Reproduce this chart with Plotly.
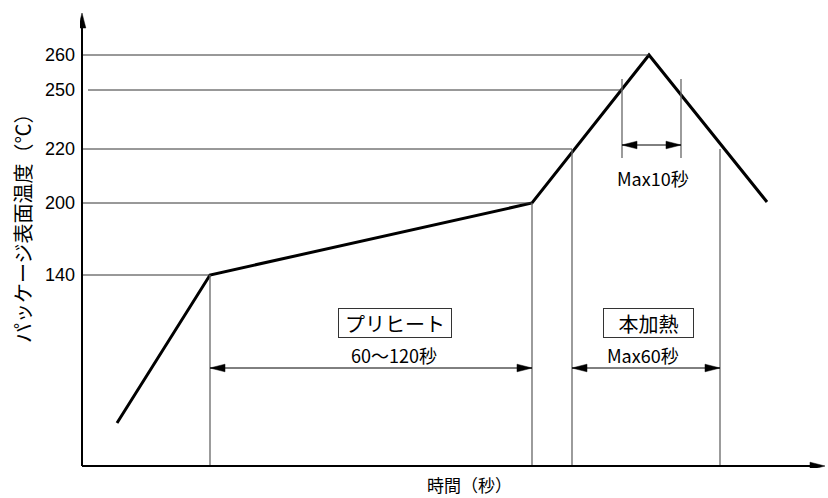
import plotly.graph_objects as go

# temperatures marked on the vertical axis and their height on the (non-linear) drawing
temps = [140, 200, 220, 250, 260]
temp_level = [191, 263, 317, 376, 411]

# reflow profile, schematic time units
profile_t = [35, 128, 450, 567, 685]
profile_level = [43, 191, 263, 411, 264]

preheat = [128, 450]      # プリヒート 60~120秒
main_heat = [490, 638]    # 本加熱 Max60秒
peak_zone = [540, 599]    # Max10秒 (>=250)
peak_guides = [308, 387]

x_end = 743
y_end = 453

JP = "Noto Sans CJK JP"
NUM = "Liberation Sans, Arial"

fig = go.Figure()

guide = dict(color="#333", width=1)
vguide = dict(color="#666", width=1.3)

# horizontal guides from the axis to where the profile meets the temperature
h_end = [preheat[0], preheat[1], main_heat[0], peak_zone[0], profile_t[3]]
h_start = [0, 0, 0, 6, 0]
for lv, x0, x1 in zip(temp_level, h_start, h_end):
    fig.add_shape(type="line", x0=x0, x1=x1, y0=lv, y1=lv, line=guide)

# vertical guides down to the time axis
for x, lv in [(preheat[0], temp_level[0]), (preheat[1], temp_level[1]),
              (main_heat[0], temp_level[2]), (main_heat[1], temp_level[2])]:
    fig.add_shape(type="line", x0=x, x1=x, y0=0, y1=lv, line=vguide)
for x in peak_zone:
    fig.add_shape(type="line", x0=x, x1=x, y0=peak_guides[0], y1=peak_guides[1], line=vguide)


def head(x, y, dx, dy, length=15, half=3.8):
    # filled triangle whose tip is at (x, y), pointing along (dx, dy)
    bx, by = x - dx * length, y - dy * length
    px, py = -dy * half, dx * half
    path = f"M{x},{y} L{bx + px},{by + py} L{bx - px},{by - py} Z"
    fig.add_shape(type="path", path=path, fillcolor="black", line=dict(color="black", width=0.5))


def span(x0, x1, y):
    fig.add_shape(type="line", x0=x0, x1=x1, y0=y, y1=y, line=dict(color="black", width=1))
    head(x0, y, -1, 0)
    head(x1, y, 1, 0)


span(preheat[0], preheat[1], 98)
span(main_heat[0], main_heat[1], 98)
span(peak_zone[0], peak_zone[1], 321)

# axes with arrows
fig.add_shape(type="line", x0=0, x1=0, y0=0, y1=y_end - 10, line=dict(color="black", width=2))
fig.add_shape(type="line", x0=0, x1=x_end - 10, y0=0, y1=0, line=dict(color="black", width=2))
head(0, y_end, 0, 1)
head(x_end, 0, 1, 0)

fig.add_trace(go.Scatter(x=profile_t, y=profile_level, mode="lines",
                         line=dict(color="black", width=3), hoverinfo="skip"))

txt = dict(family=JP, size=18, color="black")
box = dict(family=JP, size=20, color="black")
fig.add_annotation(x=313, y=143, text="プリヒート", showarrow=False, font=box,
                   bordercolor="#333", borderwidth=1, borderpad=0, width=112, height=28)
fig.add_annotation(x=566, y=143, text="本加熱", showarrow=False, font=box,
                   bordercolor="#333", borderwidth=1, borderpad=0, width=89, height=28)
fig.add_annotation(x=312, y=111, text="60〜120秒", showarrow=False, font=txt)
fig.add_annotation(x=561, y=111, text="Max60秒", showarrow=False, font=txt)
fig.add_annotation(x=571, y=288, text="Max10秒", showarrow=False, font=txt)

# axis titles (paper coords so they are not hidden outside the axis ranges)
fig.add_annotation(xref="paper", yref="paper", x=0.522, y=-0.036, xanchor="center", yanchor="middle",
                   text="時間（秒）", showarrow=False, font=dict(family=JP, size=17, color="black"))
fig.add_annotation(xref="paper", yref="paper", x=-0.0776, y=0.536, xanchor="center", yanchor="middle",
                   text="パッケージ表面温度（℃）", showarrow=False, textangle=-90,
                   font=dict(family=JP, size=20, color="black"))

fig.update_layout(
    width=828, height=498, autosize=False,
    margin=dict(l=80, r=1, t=11, b=30),
    plot_bgcolor="white", paper_bgcolor="white",
    showlegend=False,
    xaxis=dict(range=[-2, 745], showgrid=False, zeroline=False, showticklabels=False, ticks=""),
    yaxis=dict(range=[-2, 455], showgrid=False, zeroline=False, ticks="",
               tickvals=temp_level, ticktext=[str(t) for t in temps],
               tickfont=dict(family=NUM, size=18, color="black"), ticklabelstandoff=4),
)

# the page body has a default 8px margin; drop it so the figure fills the window
fig.write_html("out.html", config={"displayModeBar": False},
               post_script="document.body.style.margin='0';document.body.style.overflow='hidden';")
